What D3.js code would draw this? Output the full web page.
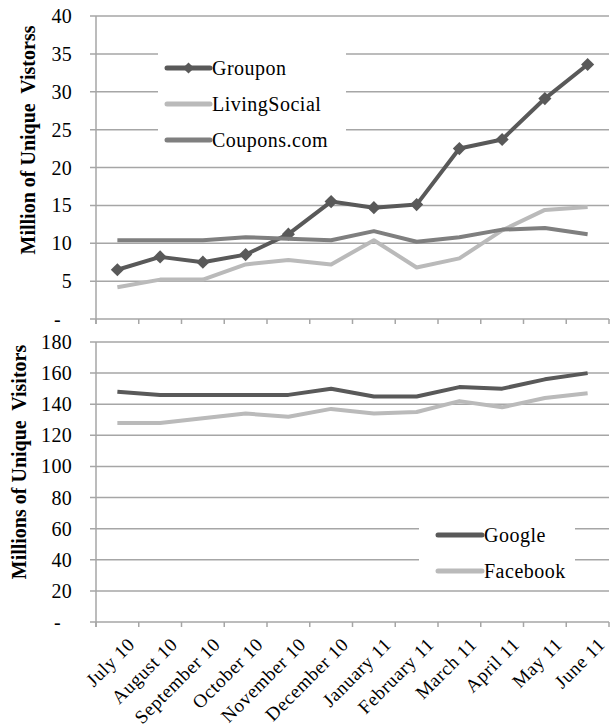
<!DOCTYPE html>
<html>
<head>
<meta charset="utf-8">
<script src="https://cdn.jsdelivr.net/npm/d3@7"></script>
<style>
  html, body { margin: 0; padding: 0; background: #fff; }
  svg text { font-family: "Liberation Serif", "Times New Roman", serif; fill: #000; }
</style>
</head>
<body>
<svg id="chart" width="612" height="727"></svg>
<script>
const months = ["July 10","August 10","September 10","October 10","November 10","December 10","January 11","February 11","March 11","April 11","May 11","June 11"];

const groupon      = [6.5, 8.2, 7.5, 8.5, 11.2, 15.5, 14.7, 15.1, 22.5, 23.7, 29.1, 33.6];
const livingSocial = [4.2, 5.2, 5.2, 7.2, 7.8, 7.2, 10.4, 6.8, 8.0, 11.7, 14.4, 14.8];
const couponsCom   = [10.4, 10.4, 10.4, 10.8, 10.6, 10.4, 11.6, 10.2, 10.8, 11.8, 12.0, 11.2];

const google   = [148, 146, 146, 146, 146, 150, 145, 145, 151, 150, 156, 160];
const facebook = [128, 128, 131, 134, 132, 137, 134, 135, 142, 138, 144, 147];

const topTicks = [0, 5, 10, 15, 20, 25, 30, 35, 40];
const bottomTicks = [0, 20, 40, 60, 80, 100, 120, 140, 160, 180];

const topTitle = "Million of Unique  Vistorss";
const bottomTitle = "Millions of Unique  Visitors";

const topSeries = [
  {name: "Groupon", values: groupon, color: "#595959", marker: true},
  {name: "LivingSocial", values: livingSocial, color: "#bababa", marker: false},
  {name: "Coupons.com", values: couponsCom, color: "#7f7f7f", marker: false}
];
const bottomSeries = [
  {name: "Google", values: google, color: "#595959", marker: false},
  {name: "Facebook", values: facebook, color: "#bababa", marker: false}
];

const svg = d3.select("#chart");
const left = 96, right = 609;
const gridColor = "#a6a6a6";

const x = d3.scaleBand().domain(months).range([left, right]).padding(0);
const xc = d => x(d) + x.bandwidth() / 2;

function panel(cfg) {
  const y = d3.scaleLinear().domain(cfg.domain).range([cfg.bottom, cfg.top]);
  const g = svg.append("g");

  g.selectAll("line.grid").data(cfg.ticks).join("line")
    .attr("x1", left - 6).attr("x2", right)
    .attr("y1", d => y(d)).attr("y2", d => y(d))
    .attr("stroke", gridColor).attr("stroke-width", 1.5);

  g.append("line").attr("x1", left).attr("x2", left)
    .attr("y1", cfg.top).attr("y2", cfg.bottom + 5)
    .attr("stroke", gridColor).attr("stroke-width", 1.5);

  const bounds = d3.range(months.length + 1).map(i => left + i * x.bandwidth());
  g.selectAll("line.xt").data(bounds).join("line")
    .attr("x1", d => d).attr("x2", d => d)
    .attr("y1", cfg.bottom).attr("y2", cfg.bottom + 5)
    .attr("stroke", gridColor).attr("stroke-width", 1.5);

  g.selectAll("text.yl").data(cfg.ticks).join("text")
    .attr("x", d => d === 0 ? 61 : 72)
    .attr("y", d => y(d))
    .attr("text-anchor", "end")
    .attr("dominant-baseline", "central")
    .style("font-size", "20px")
    .style("letter-spacing", "0.3px")
    .text(d => d === 0 ? "-" : d);

  g.append("text")
    .attr("transform", `translate(${cfg.titleX},${cfg.titleY}) rotate(-90)`)
    .attr("text-anchor", "middle")
    .attr("dominant-baseline", "central")
    .style("font-size", "20px")
    .style("font-weight", "bold")
    .style("white-space", "pre")
    .text(cfg.title);

  g.append("rect").attr("x", cfg.legend.x).attr("y", cfg.legend.y)
    .attr("width", cfg.legend.w).attr("height", cfg.legend.h).attr("fill", "#fff");

  const line = d3.line().x((d, i) => xc(months[i])).y(d => y(d));
  cfg.series.forEach(s => {
    g.append("path").attr("d", line(s.values))
      .attr("fill", "none").attr("stroke", s.color).attr("stroke-width", 4)
      .attr("stroke-linejoin", "round");
    if (s.marker) {
      g.selectAll(null).data(s.values).join("path")
        .attr("d", d3.symbol(d3.symbolDiamond2, 110)())
        .attr("transform", (d, i) => `translate(${xc(months[i])},${y(d)})`)
        .attr("fill", s.color);
    }
  });

  cfg.series.forEach((s, i) => {
    const ly = cfg.legend.firstY + i * cfg.legend.step;
    g.append("line").attr("x1", cfg.legend.lx1).attr("x2", cfg.legend.lx2)
      .attr("y1", ly).attr("y2", ly)
      .attr("stroke", s.color).attr("stroke-width", 5).attr("stroke-linecap", "round");
    if (s.marker) {
      g.append("path").attr("d", d3.symbol(d3.symbolDiamond2, 80)())
        .attr("transform", `translate(${(cfg.legend.lx1 + cfg.legend.lx2) / 2},${ly})`)
        .attr("fill", s.color);
    }
    g.append("text").attr("x", cfg.legend.lx2 + 2).attr("y", ly)
      .attr("dominant-baseline", "central")
      .style("font-size", "20px")
      .style("letter-spacing", "0.5px")
      .text(s.name);
  });
}

panel({
  domain: [0, 40], top: 16, bottom: 319, ticks: topTicks, series: topSeries,
  title: topTitle, titleX: 28, titleY: 140,
  legend: {x: 158, y: 45, w: 188, h: 112, firstY: 68, step: 36, lx1: 167, lx2: 210}
});

panel({
  domain: [0, 180], top: 342, bottom: 622, ticks: bottomTicks, series: bottomSeries,
  title: bottomTitle, titleX: 19, titleY: 462,
  legend: {x: 419, y: 510, w: 156, h: 75, firstY: 535, step: 36, lx1: 438, lx2: 482}
});

svg.append("g").selectAll("text").data(months).join("text")
  .attr("transform", d => `translate(${xc(d) + 9},${636}) rotate(-45)`)
  .attr("text-anchor", "end")
  .attr("dominant-baseline", "hanging")
  .style("font-size", "19px")
  .style("letter-spacing", "0.6px")
  .text(d => d);
</script>
</body>
</html>
